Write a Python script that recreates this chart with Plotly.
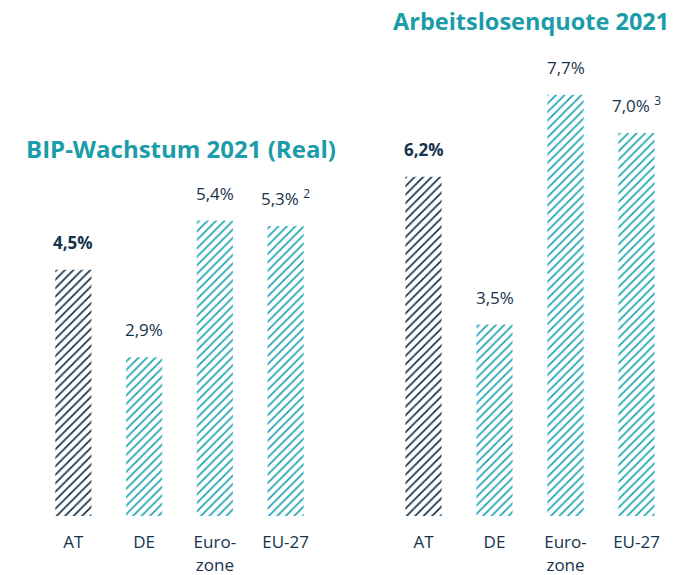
import plotly.graph_objects as go

categories = ["AT", "DE", "Euro-<br>zone", "EU-27"]
gdp_values = [4.5, 2.9, 5.4, 5.3]
gdp_labels = ["<b>4,5%</b>", "2,9%", "5,4%", "5,3% <sup>2</sup>"]
unemp_values = [6.2, 3.5, 7.7, 7.0]
unemp_labels = ["<b>6,2%</b>", "3,5%", "7,7%", "7,0% <sup>3</sup>"]
title_left = "BIP-Wachstum 2021 (Real)"
title_right = "Arbeitslosenquote 2021"

NAVY = "#17334b"
TEAL = "#1fa6b6"
TITLE_TEAL = "#1a9ca9"
bar_colors = [NAVY, TEAL, TEAL, TEAL]

FONT = "Open Sans"
TITLE_FONT = "Open Sans"

W, H = 684, 575
BASE = 516  # baseline in page pixels
PPU = 54.7  # pixels per unit
MB = H - BASE  # bottom margin
PLOT_H = H - MB


def px(x):
    return x / W


def py(y):
    return 1 - y / PLOT_H


fig = go.Figure()
for vals, xa, ya in [(gdp_values, "x", "y"), (unemp_values, "x2", "y2")]:
    fig.add_trace(go.Bar(
        x=categories, y=vals, xaxis=xa, yaxis=ya, width=0.51,
        marker=dict(color="white", line=dict(width=0),
                    pattern=dict(shape="/", size=6, solidity=0.28,
                                 fgcolor=bar_colors, bgcolor="white", fillmode="replace")),
        showlegend=False, hoverinfo="skip"))

ann = []
for labels, vals, xr, yr in [(gdp_labels, gdp_values, "x", "y"), (unemp_labels, unemp_values, "x2", "y2")]:
    for c, v, t, col in zip(categories, vals, labels, bar_colors):
        ann.append(dict(x=c, y=v, xref=xr, yref=yr, text=t, showarrow=False,
                        yanchor="bottom", yshift=14, xanchor="center",
                        font=dict(family=FONT, size=17, color=NAVY)))

ann.append(dict(x=px(24), y=py(148), xref="paper", yref="paper", text="<b>" + title_left + "</b>",
                showarrow=False, xanchor="left", yanchor="middle",
                font=dict(family=TITLE_FONT, size=24, color=TITLE_TEAL)))
ann.append(dict(x=px(671), y=py(21), xref="paper", yref="paper", text="<b>" + title_right + "</b>",
                showarrow=False, xanchor="right", yanchor="middle",
                font=dict(family=TITLE_FONT, size=23.5, color=TITLE_TEAL)))

ymax = BASE / PPU
axis_common = dict(showgrid=False, zeroline=False, showline=False, ticks="outside",
                   ticklen=11, tickcolor="rgba(0,0,0,0)", automargin=False,
                   tickfont=dict(family=FONT, size=17, color=NAVY), fixedrange=True)
yaxis_common = dict(range=[0, ymax], visible=False, fixedrange=True, automargin=False)

fig.update_layout(
    width=W, height=H,
    margin=dict(l=0, r=0, t=0, b=MB, autoexpand=False),
    paper_bgcolor="white", plot_bgcolor="white",
    xaxis=dict(domain=[px(38), px(321)], anchor="y", **axis_common),
    xaxis2=dict(domain=[px(388), px(672)], anchor="y2", **axis_common),
    yaxis=dict(anchor="x", **yaxis_common),
    yaxis2=dict(anchor="x2", **yaxis_common),
    annotations=ann,
)

fig.write_html("out.html", config={"displayModeBar": False},
               post_script="document.body.style.margin='0';document.body.style.overflow='hidden';")
